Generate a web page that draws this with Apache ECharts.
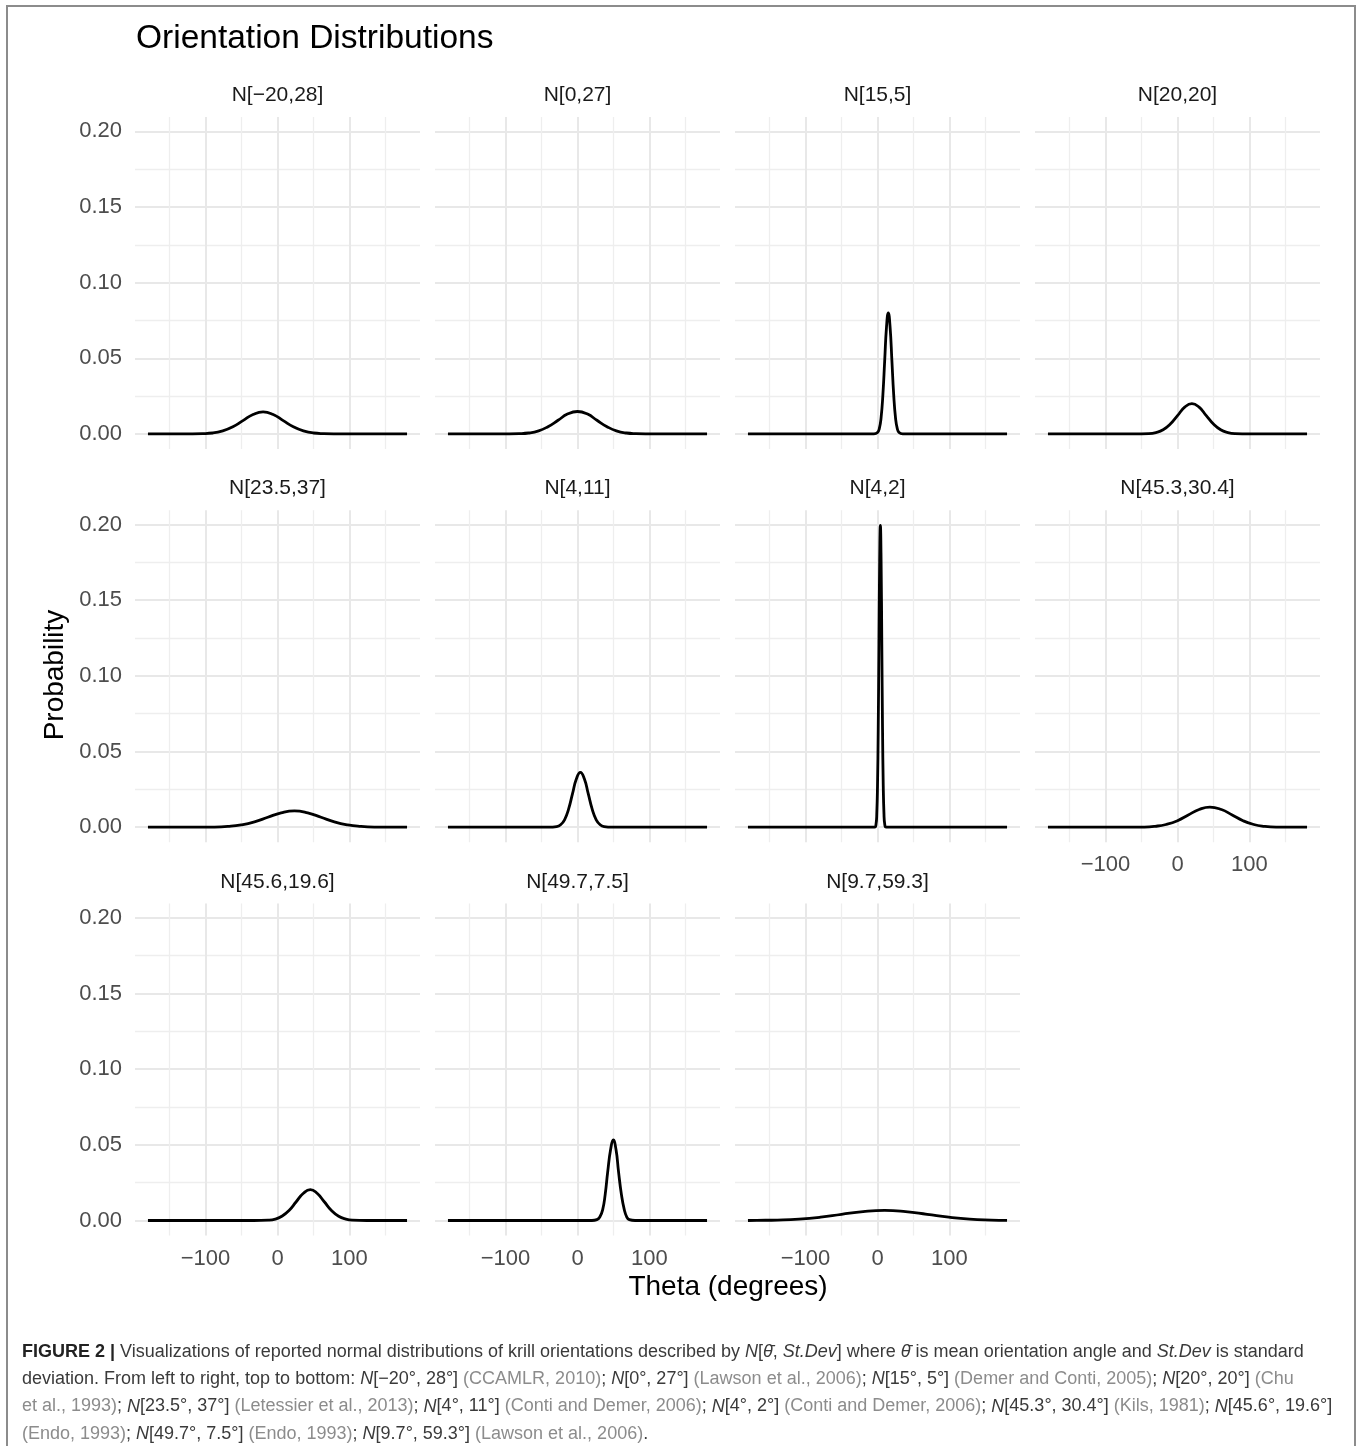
<!DOCTYPE html>
<html>
<head>
<meta charset="utf-8">
<title>Orientation Distributions</title>
<script src="https://cdn.jsdelivr.net/npm/echarts@6/dist/echarts.min.js"></script>
<style>
html, body { margin: 0; padding: 0; background: #fff; }
#main { width: 1360px; height: 1446px; }
</style>
</head>
<body>
<div id="main"></div>
<script>
// facet labels, left to right, top to bottom
var panelTitles = ['N[\u221220,28]', 'N[0,27]', 'N[15,5]', 'N[20,20]',
                   'N[23.5,37]', 'N[4,11]', 'N[4,2]', 'N[45.3,30.4]',
                   'N[45.6,19.6]', 'N[49.7,7.5]', 'N[9.7,59.3]'];

// [theta, probability]
var curveM20s28 = [[-180,0],[-132,0],[-104,0.0002],[-90,0.0006],[-76,0.0020],[-62,0.0047],[-48,0.0088],[-34,0.0128],[-20,0.0145],[-6,0.0128],[8,0.0088],[22,0.0047],[36,0.0020],[50,0.0006],[64,0.0002],[92,0],[180,0]];
var curve0s27 = [[-180,0],[-108,0],[-81,0.0002],[-68,0.0006],[-54,0.0020],[-41,0.0048],[-27,0.0090],[-14,0.0131],[0,0.0148],[14,0.0131],[27,0.0090],[41,0.0048],[54,0.0020],[68,0.0006],[81,0.0002],[108,0],[180,0]];
var curve15s5 = [[-180,0],[-5,0],[0,0.0009],[2.5,0.0035],[5,0.0108],[7.5,0.0260],[10,0.0485],[12.5,0.0706],[15,0.0800],[17.5,0.0706],[20,0.0485],[22.5,0.0260],[25,0.0108],[27.5,0.0035],[30,0.0009],[35,0],[180,0]];
var curve20s20 = [[-180,0],[-60,0],[-40,0.0002],[-30,0.0009],[-20,0.0027],[-10,0.0065],[0,0.0121],[10,0.0177],[20,0.0200],[30,0.0177],[40,0.0121],[50,0.0065],[60,0.0027],[70,0.0009],[80,0.0002],[100,0],[180,0]];
var curve23s37 = [[-180,0],[-124.5,0],[-87.5,0.0001],[-69,0.0005],[-50.5,0.0015],[-32,0.0035],[-13.5,0.0066],[5,0.0095],[23.5,0.0108],[42,0.0095],[60.5,0.0066],[79,0.0035],[97.5,0.0015],[116,0.0005],[134.5,0.0001],[171.5,0],[180,0]];
var curve4s11 = [[-180,0],[-40,0],[-29,0.0004],[-23.5,0.0016],[-18,0.0049],[-12.5,0.0118],[-7,0.0220],[-1.5,0.0320],[4,0.0363],[9.5,0.0320],[15,0.0220],[20.5,0.0118],[26,0.0049],[31.5,0.0016],[37,0.0004],[48,0],[180,0]];
var curve4s2 = [[-180,0],[-4,0],[-2,0.0022],[-1,0.0088],[0,0.0270],[1,0.0648],[2,0.1210],[3,0.1761],[4,0.1995],[5,0.1761],[6,0.1210],[7,0.0648],[8,0.0270],[9,0.0088],[10,0.0022],[12,0],[180,0]];
var curve45s30 = [[-180,0],[-76,0],[-46,0.0001],[-31,0.0006],[-16,0.0018],[0,0.0043],[15,0.0081],[30,0.0117],[45,0.0133],[61,0.0117],[76,0.0081],[91,0.0043],[106,0.0018],[121,0.0006],[137,0.0001],[167,0],[180,0]];
var curve45s19 = [[-180,0],[-33,0],[-13,0.0002],[-3,0.0009],[6,0.0028],[16,0.0066],[26,0.0124],[36,0.0180],[45.6,0.0204],[55,0.0180],[65,0.0124],[75,0.0066],[85,0.0028],[95,0.0009],[104,0.0002],[124,0],[180,0]];
var curve49s7 = [[-180,0],[20,0],[27,0.0006],[31,0.0023],[35,0.0072],[38.5,0.0173],[42,0.0323],[46,0.0469],[49.7,0.0532],[53.5,0.0469],[57,0.0323],[61,0.0173],[65,0.0072],[68.5,0.0023],[72,0.0006],[80,0],[180,0]];
var curve9s59 = [[-180,0],[-168,0.0001],[-139,0.0003],[-109,0.0009],[-79,0.0022],[-50,0.0041],[-20,0.0059],[10,0.0067],[39,0.0059],[69,0.0041],[99,0.0022],[128,0.0009],[158,0.0003],[180,0.0001]];

var curves = [curveM20s28, curve0s27, curve15s5, curve20s20, curve23s37, curve4s11,
              curve4s2, curve45s30, curve45s19, curve49s7, curve9s59];

var xTickValues = [-100, 0, 100];
var yTickValues = [0, 0.05, 0.10, 0.15, 0.20];
var xRange = [-198, 198];
var yRange = [-0.00997, 0.20944];

var captionLines = [
    '{b|FIGURE 2 |}{t| Visualizations of reported normal distributions of krill orientations described by }{i|N}{t|[}{i|\u03b8\u0304}{t|, }{i|St.Dev}{t|] where }{i|\u03b8\u0304}{t| is mean orientation angle and }{i|St.Dev}{t| is standard}',
    '{t|deviation. From left to right, top to bottom: }{i|N}{t|[\u221220\u00b0, 28\u00b0] }{g|(CCAMLR, 2010)}{t|; }{i|N}{t|[0\u00b0, 27\u00b0] }{g|(Lawson et al., 2006)}{t|; }{i|N}{t|[15\u00b0, 5\u00b0] }{g|(Demer and Conti, 2005)}{t|; }{i|N}{t|[20\u00b0, 20\u00b0] }{g|(Chu}',
    '{g|et al., 1993)}{t|; }{i|N}{t|[23.5\u00b0, 37\u00b0] }{g|(Letessier et al., 2013)}{t|; }{i|N}{t|[4\u00b0, 11\u00b0] }{g|(Conti and Demer, 2006)}{t|; }{i|N}{t|[4\u00b0, 2\u00b0] }{g|(Conti and Demer, 2006)}{t|; }{i|N}{t|[45.3\u00b0, 30.4\u00b0] }{g|(Kils, 1981)}{t|; }{i|N}{t|[45.6\u00b0, 19.6\u00b0]}',
    '{g|(Endo, 1993)}{t|; }{i|N}{t|[49.7\u00b0, 7.5\u00b0] }{g|(Endo, 1993)}{t|; }{i|N}{t|[9.7\u00b0, 59.3\u00b0] }{g|(Lawson et al., 2006)}{t|.}'
];

// layout of the facet grid (px)
var FONT = '"Liberation Sans", Arial, Helvetica, sans-serif';
var colLeft = [135, 435, 735, 1035];
var rowTop = [117, 510.3, 903.6];
var panelW = 285, panelH = 332;
var stripY = [95, 488.5, 882];

function fmtTheta(v) {
    return v < 0 ? '\u2212' + Math.abs(v) : String(v);
}

var grids = [], xAxes = [], yAxes = [], series = [], graphics = [];

for (var i = 0; i < curves.length; i++) {
    var row = Math.floor(i / 4), col = i % 4;
    var showX = (row === 2) || (i === 7);
    var showY = (col === 0);

    grids.push({ left: colLeft[col], top: rowTop[row], width: panelW, height: panelH, containLabel: false });

    xAxes.push({
        gridIndex: i, type: 'value', min: xRange[0], max: xRange[1],
        axisLine: { show: false },
        axisTick: { show: false, customValues: xTickValues },
        axisLabel: { show: showX, customValues: xTickValues, formatter: fmtTheta,
                     color: '#4d4d4d', fontSize: 22, fontFamily: FONT, margin: 12 },
        splitLine: { show: true, lineStyle: { color: '#e8e8e8', width: 2 } },
        minorTick: { show: false, splitNumber: 2 },
        minorSplitLine: { show: true, lineStyle: { color: '#eeeeee', width: 1.3 } }
    });

    yAxes.push({
        gridIndex: i, type: 'value', min: yRange[0], max: yRange[1],
        axisLine: { show: false },
        axisTick: { show: false, customValues: yTickValues },
        axisLabel: { show: showY, customValues: yTickValues,
                     formatter: function (v) { return v.toFixed(2); },
                     color: '#4d4d4d', fontSize: 22, fontFamily: FONT, margin: 13 },
        splitLine: { show: true, lineStyle: { color: '#e8e8e8', width: 2 } },
        minorTick: { show: false, splitNumber: 2 },
        minorSplitLine: { show: true, lineStyle: { color: '#eeeeee', width: 1.3 } }
    });

    series.push({
        name: panelTitles[i], type: 'line', xAxisIndex: i, yAxisIndex: i,
        data: curves[i], showSymbol: false, symbol: 'none', smooth: 0.5,
        lineStyle: { color: '#000', width: 2.8 }, silent: true, z: 3
    });

    graphics.push({
        type: 'text', x: colLeft[col] + panelW / 2, y: stripY[row],
        style: { text: panelTitles[i], fill: '#1a1a1a', font: '21px ' + FONT,
                 align: 'center', verticalAlign: 'middle' }
    });
}

// frame, titles, caption
graphics.push({
    type: 'rect', shape: { x: 7, y: 6, width: 1348, height: 1480 }, z: -10,
    style: { fill: 'none', stroke: '#8c8c8c', lineWidth: 2 }
});
graphics.push({
    type: 'text', x: 136, y: 38.5,
    style: { text: 'Orientation Distributions', fill: '#000', font: '33.5px ' + FONT,
             align: 'left', verticalAlign: 'middle' }
});
graphics.push({
    type: 'text', x: 55, y: 675, rotation: Math.PI / 2,
    style: { text: 'Probability', fill: '#000', font: '28px ' + FONT,
             align: 'center', verticalAlign: 'middle' }
});
graphics.push({
    type: 'text', x: 728, y: 1287,
    style: { text: 'Theta (degrees)', fill: '#000', font: '28px ' + FONT,
             align: 'center', verticalAlign: 'middle' }
});

var capY = [1352, 1379, 1406.5, 1434];
for (var k = 0; k < captionLines.length; k++) {
    graphics.push({
        type: 'text', x: 22, y: capY[k],
        style: {
            text: captionLines[k], align: 'left', verticalAlign: 'middle',
            rich: {
                b: { fontSize: 18, fontFamily: FONT, fontWeight: 'bold', fill: '#222' },
                t: { fontSize: 18, fontFamily: FONT, fill: '#3a3a3a' },
                i: { fontSize: 18, fontFamily: FONT, fontStyle: 'italic', fill: '#3a3a3a' },
                g: { fontSize: 18, fontFamily: FONT, fill: '#8c8c8c' }
            }
        }
    });
}

var myChart = echarts.init(document.getElementById('main'));
var option = {
    animation: false,
    backgroundColor: '#fff',
    grid: grids,
    xAxis: xAxes,
    yAxis: yAxes,
    series: series,
    graphic: graphics
};
myChart.setOption(option);

window.onresize = function () {
    myChart.resize();
};
</script>
</body>
</html>
